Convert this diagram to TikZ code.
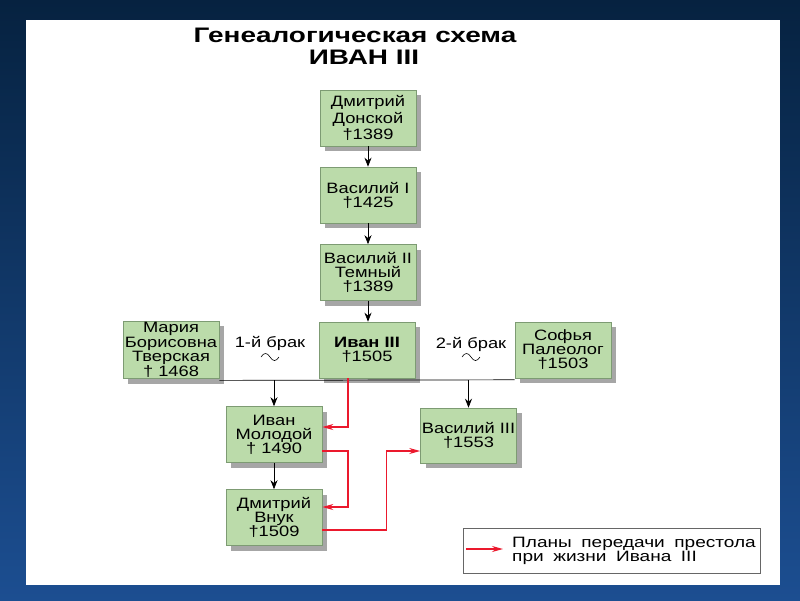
\documentclass[tikz,border=0pt]{standalone}
\usepackage{fontspec}
\setmainfont{Liberation Sans}
\newfontfamily\boxfont[FakeStretch=1.22]{Liberation Sans}
\newfontfamily\titlefont[FakeStretch=1.33]{Liberation Sans}
\newfontfamily\legfont[FakeStretch=1.27,WordSpace=1.8]{Liberation Sans}
\usetikzlibrary{shadows,arrows.meta}
\definecolor{boxgreen}{RGB}{187,219,170}
\definecolor{boxedge}{RGB}{125,155,115}
\definecolor{redline}{RGB}{235,25,45}
\definecolor{bgtop}{RGB}{6,34,64}
\definecolor{bgbot}{RGB}{28,78,145}
\begin{document}
\begin{tikzpicture}[x=1pt,y=-1pt,
  person/.style={draw=boxedge, fill=boxgreen, line width=0.6pt,
    minimum width=96pt, minimum height=56pt, align=center, inner sep=1pt,
    font=\boxfont\fontsize{15}{14}\selectfont,
    drop shadow={shadow xshift=5pt, shadow yshift=-5pt, fill=black!35, opacity=1}},
  kin/.style={-{Stealth[length=9pt,width=7pt]}, black, line width=0.7pt},
  plan/.style={-{Stealth[length=11pt,width=6pt]}, color=redline, line width=1.2pt},
  lbl/.style={font=\boxfont\fontsize{15}{14}\selectfont, inner sep=0pt},
  wave/.style={line width=0.6pt, black}]
\useasboundingbox (0,0) rectangle (800,600);
\shade[top color=bgtop, bottom color=bgbot] (0,0) rectangle (800,600);
\fill[white] (26,20) rectangle (780,585);

\node[font=\titlefont\bfseries\fontsize{21}{21}\selectfont] (t1) at (355,35) {Генеалогическая схема};
\node[font=\titlefont\bfseries\fontsize{21}{21}\selectfont] (t2) at (364,57) {ИВАН III};

\node[person, font=\boxfont\fontsize{15}{16.5}\selectfont] (dd) at (368,118) {Дмитрий\\Донской\\†1389};
\node[person] (v1) at (368,195) {Василий I\\†1425};
\node[person] (v2) at (368,272.5) {Василий II\\Темный\\†1389};
\node[person, font=\boxfont\fontsize{15}{12.5}\selectfont] (maria) at (171,350) {Мария\\Борисовна\\Тверская\\† 1468};
\node[person] (iv3) at (367,350) {\textbf{Иван III}\\†1505};
\node[person] (sof) at (563,350) {Софья\\Палеолог\\†1503};
\node[person] (ivm) at (274,434.5) {Иван\\Молодой\\† 1490};
\node[person, minimum height=55pt] (v3) at (468.5,435.5) {Василий III\\†1553};
\node[person] (dv) at (274,517.5) {Дмитрий\\Внук\\†1509};

\node[lbl] (b1) at (270,343) {1-й брак};
\node[lbl] (b2) at (471,344) {2-й брак};
\draw[wave] (261,357) .. controls (264,352.3) and (267,352.3) .. (270,357) .. controls (273,361.7) and (276,361.7) .. (279,357);
\draw[wave] (462,357) .. controls (465,352.3) and (468,352.3) .. (471,357) .. controls (474,361.7) and (477,361.7) .. (480,357);

\coordinate (mleft) at ([yshift=-1.5pt]maria.south east);
\coordinate (mright) at ([yshift=-1.5pt]sof.south west);
\draw[black, line width=0.7pt] (mleft) -- (mright);
\draw[kin] (ivm.north |- mleft) -- (ivm.north);
\draw[kin] (v3.north |- mleft) -- (v3.north);
\draw[kin] (dd.south) -- (v1.north);
\draw[kin] (v1.south) -- (v2.north);
\draw[kin] (v2.south) -- (v2.south |- iv3.north);
\draw[kin] (ivm.south) -- (dv.north);

\coordinate (r2a) at (348,451);
\draw[plan] ([yshift=-16.5pt]ivm.east) -- (r2a) |- ([yshift=10.5pt]dv.east);
\draw[plan] ([xshift=-19pt]iv3.south) |- ([yshift=7.5pt]ivm.east);
\draw[plan] ([yshift=-12.5pt]dv.east) -- ++(64,0) |- ([yshift=-15.5pt]v3.west);

\node[draw=black!60, line width=0.6pt, minimum width=297pt, minimum height=45pt] (leg) at (611.5,550.5) {};
\coordinate (la) at (466,549);
\coordinate (lb) at (503,549);
\draw[plan] (la) -- (lb);
\node[anchor=west, align=left, inner sep=0pt, font=\legfont\fontsize{15}{14}\selectfont] (lt) at (512,550.5) {Планы передачи престола\\при жизни Ивана III};
\end{tikzpicture}
\end{document}
